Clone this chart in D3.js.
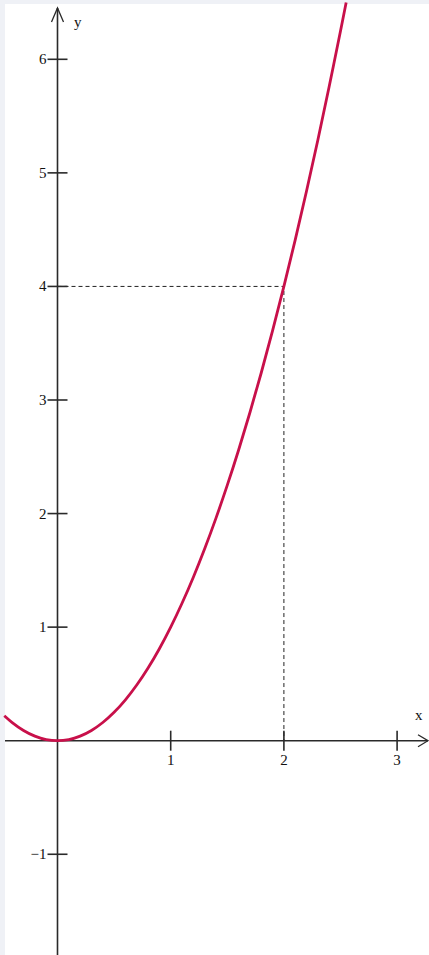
<!DOCTYPE html>
<html>
<head>
<meta charset="utf-8">
<script src="https://cdn.jsdelivr.net/npm/d3@7"></script>
<style>
  html, body { margin: 0; padding: 0; background: #eff1f6; }
  svg { display: block; }
  .lbl { font-family: "Liberation Serif", "DejaVu Serif", serif; font-size: 15px; fill: #111; }
</style>
</head>
<body>
<div id="chart"></div>
<script>
// values
const xTicks = [1, 2, 3];
const yTicks = [-1, 1, 2, 3, 4, 5, 6];
const curveX = [-0.47, -0.4, -0.3, -0.2, -0.1, 0, 0.1, 0.2, 0.3, 0.4, 0.5, 0.6, 0.7, 0.8, 0.9, 1, 1.1, 1.2, 1.3, 1.4, 1.5, 1.6, 1.7, 1.8, 1.9, 2, 2.1, 2.2, 2.3, 2.4, 2.5, 2.55];
const curveY = [0.22, 0.16, 0.09, 0.04, 0.01, 0, 0.01, 0.04, 0.09, 0.16, 0.25, 0.36, 0.49, 0.64, 0.81, 1, 1.21, 1.44, 1.69, 1.96, 2.25, 2.56, 2.89, 3.24, 3.61, 4, 4.41, 4.84, 5.29, 5.76, 6.25, 6.5];
const marked = { x: 2, y: 4 };

const width = 429;
const height = 955;

const svg = d3.select('#chart')
  .append('svg')
  .attr('width', width)
  .attr('height', height);

// white plotting sheet inside the pale frame
svg.append('rect')
  .attr('x', 5)
  .attr('y', 4)
  .attr('width', width - 5)
  .attr('height', height - 4)
  .attr('fill', '#ffffff');

const x = d3.scaleLinear().domain([0, 3]).range([57.5, 397.1]);
const y = d3.scaleLinear().domain([0, 6]).range([740.7, 59.3]);

const axisColor = '#2a2a2a';

// dashed guides to the marked point
svg.append('path')
  .attr('d', `M${x(0)},${y(marked.y)}H${x(marked.x)}V${y(0)}`)
  .attr('fill', 'none')
  .attr('stroke', '#222')
  .attr('stroke-width', 1)
  .attr('stroke-dasharray', '4,3');

// x axis
svg.append('line')
  .attr('x1', 5).attr('x2', 428)
  .attr('y1', y(0)).attr('y2', y(0))
  .attr('stroke', axisColor).attr('stroke-width', 1.6);
svg.append('path')
  .attr('d', `M418,${y(0) - 6}L428,${y(0)}L418,${y(0) + 6}`)
  .attr('fill', 'none').attr('stroke', axisColor).attr('stroke-width', 1.3);

// y axis
svg.append('line')
  .attr('x1', x(0)).attr('x2', x(0))
  .attr('y1', 8).attr('y2', height)
  .attr('stroke', axisColor).attr('stroke-width', 1.6);
svg.append('path')
  .attr('d', `M${x(0) - 6},22L${x(0)},8L${x(0) + 6},22`)
  .attr('fill', 'none').attr('stroke', axisColor).attr('stroke-width', 1.3);

// ticks
svg.selectAll('.xt')
  .data(xTicks)
  .enter().append('line')
  .attr('x1', d => x(d)).attr('x2', d => x(d))
  .attr('y1', y(0) - 10).attr('y2', y(0) + 10)
  .attr('stroke', axisColor).attr('stroke-width', 1.6);

svg.selectAll('.xl')
  .data(xTicks)
  .enter().append('text')
  .attr('class', 'lbl')
  .attr('x', d => x(d))
  .attr('y', y(0) + 24)
  .attr('text-anchor', 'middle')
  .text(d => d);

svg.selectAll('.yt')
  .data(yTicks)
  .enter().append('line')
  .attr('x1', x(0) - 10).attr('x2', x(0) + 10)
  .attr('y1', d => y(d)).attr('y2', d => y(d))
  .attr('stroke', axisColor).attr('stroke-width', 1.6);

svg.selectAll('.yl')
  .data(yTicks)
  .enter().append('text')
  .attr('class', 'lbl')
  .attr('x', x(0) - 11)
  .attr('y', d => y(d) + 5)
  .attr('text-anchor', 'end')
  .text(d => d < 0 ? '\u2212' + Math.abs(d) : d);

// axis names
svg.append('text')
  .attr('class', 'lbl')
  .attr('x', 74).attr('y', 27)
  .text('y');
svg.append('text')
  .attr('class', 'lbl')
  .attr('x', 415).attr('y', 720)
  .text('x');

// the parabola
const line = d3.line()
  .x(d => x(d[0]))
  .y(d => y(d[1]))
  .curve(d3.curveCatmullRom);

svg.append('path')
  .datum(d3.zip(curveX, curveY))
  .attr('d', line)
  .attr('fill', 'none')
  .attr('stroke', '#c8104a')
  .attr('stroke-width', 2.8);
</script>
</body>
</html>
